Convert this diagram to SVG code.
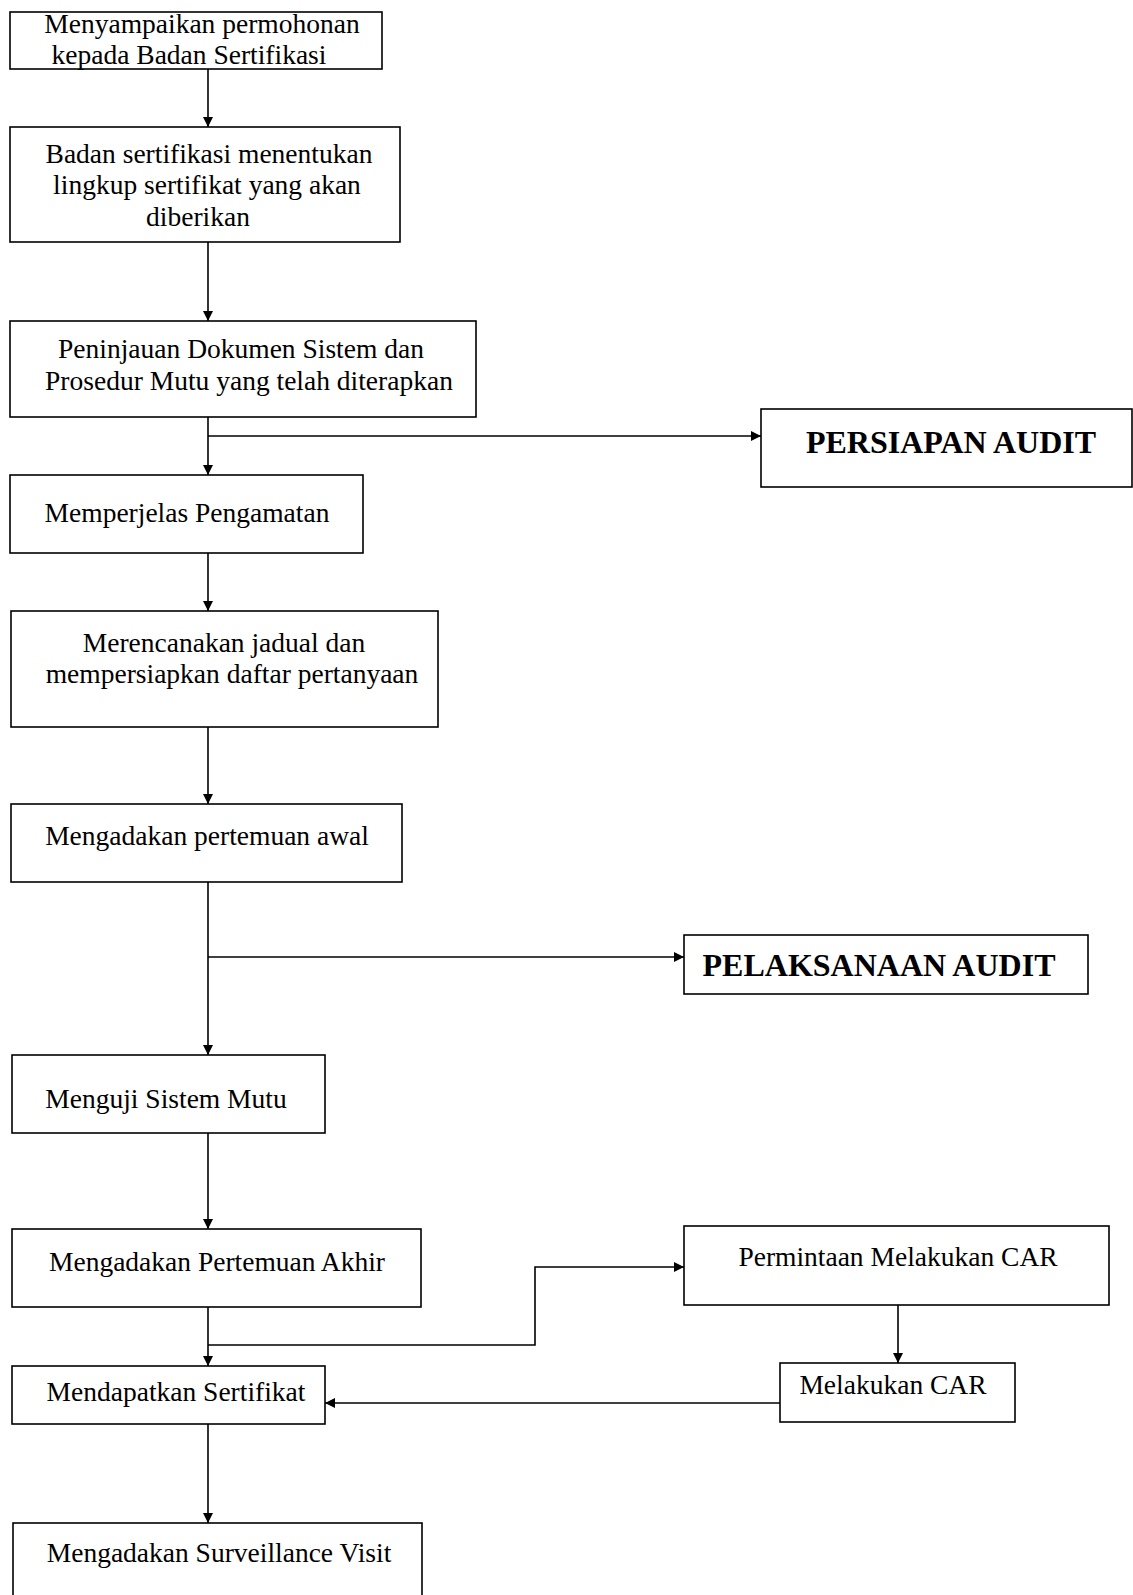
<svg xmlns="http://www.w3.org/2000/svg" width="1133" height="1595" viewBox="0 0 1133 1595">
<defs>
<style>
.box{fill:#fff;stroke:#000;stroke-width:1.6}
.ln{fill:none;stroke:#000;stroke-width:1.6}
.t{font-family:"Liberation Serif","Times New Roman",serif;font-size:27.5px;fill:#000;text-anchor:middle}
.b{font-family:"Liberation Serif","Times New Roman",serif;font-size:32px;font-weight:bold;fill:#000;text-anchor:middle}
</style>
<marker id="ah" viewBox="0 0 10 10" refX="10" refY="5" markerWidth="10" markerHeight="10" markerUnits="userSpaceOnUse" orient="auto">
<path d="M0,0 L10,5 L0,10 Z" fill="#000"/>
</marker>
</defs>
<rect width="1133" height="1595" fill="#fff"/>
<g id="connectors">
<line class="ln" x1="208" y1="69" x2="208" y2="127" marker-end="url(#ah)"/>
<line class="ln" x1="208" y1="242" x2="208" y2="321" marker-end="url(#ah)"/>
<line class="ln" x1="208" y1="417" x2="208" y2="475" marker-end="url(#ah)"/>
<line class="ln" x1="208" y1="436" x2="761" y2="436" marker-end="url(#ah)"/>
<line class="ln" x1="208" y1="553" x2="208" y2="611" marker-end="url(#ah)"/>
<line class="ln" x1="208" y1="727" x2="208" y2="804" marker-end="url(#ah)"/>
<line class="ln" x1="208" y1="882" x2="208" y2="1055" marker-end="url(#ah)"/>
<line class="ln" x1="208" y1="957" x2="684" y2="957" marker-end="url(#ah)"/>
<line class="ln" x1="208" y1="1133" x2="208" y2="1229" marker-end="url(#ah)"/>
<line class="ln" x1="208" y1="1307" x2="208" y2="1366" marker-end="url(#ah)"/>
<polyline class="ln" points="208,1345 535,1345 535,1267 684,1267" marker-end="url(#ah)"/>
<line class="ln" x1="898" y1="1305" x2="898" y2="1363" marker-end="url(#ah)"/>
<line class="ln" x1="780" y1="1403" x2="325" y2="1403" marker-end="url(#ah)"/>
<line class="ln" x1="208" y1="1424" x2="208" y2="1523" marker-end="url(#ah)"/>
</g>
<g id="n1"><rect class="box" x="10" y="12" width="372" height="57"/>
<text class="t" x="202" y="33">Menyampaikan permohonan</text>
<text class="t" x="189" y="64">kepada Badan Sertifikasi</text></g>
<g id="n2"><rect class="box" x="10" y="127" width="390" height="115"/>
<text class="t" x="209" y="163">Badan sertifikasi menentukan</text>
<text class="t" x="207" y="194">lingkup sertifikat yang akan</text>
<text class="t" x="198" y="226">diberikan</text></g>
<g id="n3"><rect class="box" x="10" y="321" width="466" height="96"/>
<text class="t" x="241" y="358">Peninjauan Dokumen Sistem dan</text>
<text class="t" x="249" y="390">Prosedur Mutu yang telah diterapkan</text></g>
<g id="n4"><rect class="box" x="10" y="475" width="353" height="78"/>
<text class="t" x="187" y="522">Memperjelas Pengamatan</text></g>
<g id="n5"><rect class="box" x="11" y="611" width="427" height="116"/>
<text class="t" x="224" y="652">Merencanakan jadual dan</text>
<text class="t" x="232" y="683">mempersiapkan daftar pertanyaan</text></g>
<g id="n6"><rect class="box" x="11" y="804" width="391" height="78"/>
<text class="t" x="207" y="845">Mengadakan pertemuan awal</text></g>
<g id="n7"><rect class="box" x="761" y="409" width="371" height="78"/>
<text class="b" x="951" y="453">PERSIAPAN AUDIT</text></g>
<g id="n8"><rect class="box" x="684" y="935" width="404" height="59"/>
<text class="b" x="879" y="976">PELAKSANAAN AUDIT</text></g>
<g id="n9"><rect class="box" x="12" y="1055" width="313" height="78"/>
<text class="t" x="166" y="1108">Menguji Sistem Mutu</text></g>
<g id="n10"><rect class="box" x="12" y="1229" width="409" height="78"/>
<text class="t" x="217" y="1271">Mengadakan Pertemuan Akhir</text></g>
<g id="n11"><rect class="box" x="684" y="1226" width="425" height="79"/>
<text class="t" x="898" y="1266">Permintaan Melakukan CAR</text></g>
<g id="n12"><rect class="box" x="12" y="1366" width="313" height="58"/>
<text class="t" x="176" y="1401">Mendapatkan Sertifikat</text></g>
<g id="n13"><rect class="box" x="780" y="1363" width="235" height="59"/>
<text class="t" x="893" y="1394">Melakukan CAR</text></g>
<g id="n14"><rect class="box" x="13" y="1523" width="409" height="90"/>
<text class="t" x="219" y="1562">Mengadakan Surveillance Visit</text></g>
</svg>
